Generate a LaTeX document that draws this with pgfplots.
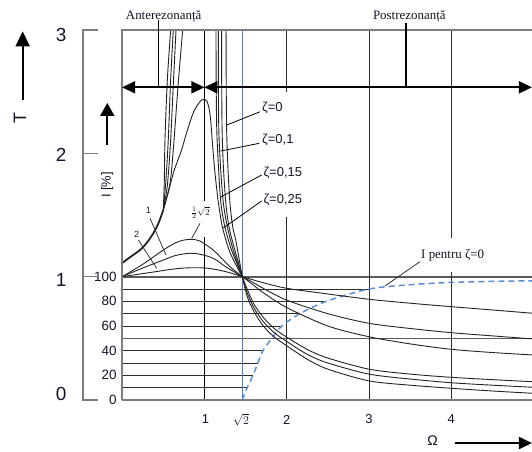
\documentclass[border=0pt]{standalone}
\usepackage{pgfplots}
\pgfplotsset{compat=1.18}
\usepackage{fontspec}
\setmainfont{Liberation Sans}
\newfontfamily\tnr{Liberation Serif}
\usetikzlibrary{arrows.meta}
\definecolor{curve}{RGB}{35,35,35}
\definecolor{gridc}{RGB}{45,45,45}
\definecolor{thickc}{RGB}{90,90,90}
\definecolor{framec}{RGB}{125,125,125}
\definecolor{blueline}{RGB}{70,130,220}
\definecolor{dashblue}{RGB}{90,140,215}
\definecolor{txt}{RGB}{20,20,40}
\newcommand\fs[1]{\fontsize{#1}{#1}\selectfont}

\begin{document}
\begin{tikzpicture}
\begin{axis}[
    x=82.3bp, y=123.3bp,
    anchor=origin, at={(0,0)},
    xmin=0, xmax=4.98, ymin=0, ymax=3,
    hide axis,
    clip mode=individual,
    every axis plot/.append style={line join=round},
]

  % isolation lines I [%] (ending on the I curve)
  \addplot[gridc, line width=1pt] coordinates {(0,0.1) (1.52,0.1)};
  \addplot[gridc, line width=1pt] coordinates {(0,0.2) (1.59,0.2)};
  \addplot[gridc, line width=1pt] coordinates {(0,0.3) (1.65,0.3)};
  \addplot[gridc, line width=1pt] coordinates {(0,0.4) (1.71,0.4)};
  \addplot[thickc, line width=1.7pt] coordinates {(0,0.5) (4.98,0.5)};
  \addplot[gridc, line width=1pt] coordinates {(0,0.6) (1.94,0.6)};
  \addplot[gridc, line width=1pt] coordinates {(0,0.7) (2.16,0.7)};
  \addplot[gridc, line width=1pt] coordinates {(0,0.8) (2.48,0.8)};
  \addplot[gridc, line width=1pt] coordinates {(0,0.9) (3.0,0.9)};
  \addplot[thickc, line width=1.7pt] coordinates {(0,1) (4.98,1)};

  % vertical lines (with gaps behind the labels)
  \addplot[black, line width=1pt] coordinates {(1,0) (1,1.325)};
  \addplot[black, line width=1pt] coordinates {(1,1.61) (1,3)};
  \addplot[gridc, line width=1pt] coordinates {(2,0) (2,1.484)};
  \addplot[gridc, line width=1pt] coordinates {(2,2.50) (2,3)};
  \addplot[gridc, line width=1pt] coordinates {(3,0) (3,3)};
  \addplot[gridc, line width=1pt] coordinates {(4,0) (4,1.04)};
  \addplot[gridc, line width=1pt] coordinates {(4,1.314) (4,3)};
  \addplot[blueline, line width=0.8pt] coordinates {(1.46,0) (1.46,3)};

  % I for zeta=0
  \addplot[dashblue, line width=1.5pt, dash pattern=on 6bp off 4bp, smooth]
    coordinates {(1.46,0) (1.52,0.1) (1.59,0.2) (1.65,0.3) (1.71,0.4) (1.82,0.5)
      (1.94,0.6) (2.16,0.7) (2.48,0.8) (3.0,0.9) (3.5,0.935) (4.0,0.954) (4.5,0.962) (5,0.967)};

  % heavily damped curves (left part)
  \addplot[curve, line width=0.9pt, smooth] coordinates {(0,1) (0.25,1.025) (0.42,1.042) (0.6,1.06)
      (0.75,1.07) (0.906,1.073) (1.05,1.068) (1.2,1.05) (1.33,1.028) (1.46,1.0)};
  \addplot[curve, line width=0.9pt, smooth] coordinates {(0,1) (0.25,1.07) (0.5,1.135) (0.65,1.172)
      (0.825,1.19) (0.95,1.182) (1.108,1.149) (1.25,1.085) (1.36,1.04) (1.46,1.0)};
  \addplot[curve, line width=0.9pt, smooth] coordinates {(0,1) (0.25,1.1) (0.5,1.216) (0.65,1.275)
      (0.75,1.297) (0.846,1.303) (0.95,1.288) (1.108,1.216) (1.2,1.155) (1.311,1.081) (1.46,1.0)};

  % lightly damped curves: common trunk and left branches
  \addplot[curve, line width=1.8pt, smooth] coordinates {(0,1.11) (0.1,1.16) (0.217,1.216)
      (0.3,1.275) (0.379,1.352) (0.44,1.43) (0.5,1.54)};
  \addplot[curve, line width=0.9pt, smooth] coordinates {(0.5,1.54) (0.512,1.75) (0.521,2.11) (0.55,2.6) (0.59,3.0)};
  \addplot[curve, line width=0.9pt, smooth] coordinates {(0.5,1.54) (0.53,1.76) (0.561,2.11) (0.59,2.6) (0.622,3.0)};
  \addplot[curve, line width=0.9pt, smooth] coordinates {(0.5,1.54) (0.55,1.74) (0.59,2.11) (0.625,2.6) (0.655,3.0)};
  \addplot[curve, line width=0.9pt, smooth] coordinates {(0.5,1.54) (0.582,1.757) (0.622,2.03) (0.68,2.55) (0.736,3.0)};

  % resonance peak curve
  \addplot[curve, line width=0.9pt, smooth] coordinates {(0.5,1.54) (0.56,1.68) (0.622,1.84)
      (0.68,1.95) (0.724,2.03) (0.785,2.17) (0.865,2.33) (0.93,2.405) (0.97,2.435) (1.0,2.44)
      (1.03,2.425) (1.055,2.37) (1.075,2.28) (1.09,2.15) (1.11,1.98) (1.135,1.8) (1.17,1.6)
      (1.22,1.4) (1.3,1.216) (1.38,1.1) (1.46,1.0)};

  % right branches
  \addplot[curve, line width=0.9pt, smooth] coordinates {(1.263,3.0) (1.265,2.6) (1.27,2.2)
      (1.285,1.9) (1.31,1.6) (1.345,1.4) (1.38,1.3) (1.42,1.15) (1.46,1.0)};
  \addplot[curve, line width=0.9pt, smooth] coordinates {(1.21,3.0) (1.21,2.6) (1.215,2.2)
      (1.23,1.9) (1.26,1.6) (1.3,1.4) (1.37,1.216) (1.42,1.1) (1.46,1.0)};
  \addplot[curve, line width=0.9pt, smooth] coordinates {(1.169,3.0) (1.17,2.6) (1.175,2.2)
      (1.195,1.9) (1.23,1.6) (1.28,1.4) (1.35,1.216) (1.41,1.1) (1.46,1.0)};
  \addplot[curve, line width=0.9pt, smooth] coordinates {(1.141,3.0) (1.143,2.6) (1.15,2.2)
      (1.17,1.9) (1.2,1.6) (1.25,1.4) (1.33,1.216) (1.40,1.1) (1.46,1.0)};

  % post-resonance region
  \addplot[curve, line width=0.9pt, smooth] coordinates {(1.46,1) (1.716,0.951) (2,0.906)
      (2.5,0.86) (3,0.817) (3.5,0.785) (4,0.757) (4.5,0.73) (5,0.703)};
  \addplot[curve, line width=0.9pt, smooth] coordinates {(1.46,1) (1.6,0.95) (1.716,0.905)
      (2,0.81) (2.5,0.70) (3,0.622) (3.5,0.58) (4,0.546) (4.5,0.52) (5,0.495)};
  \addplot[curve, line width=0.9pt, smooth] coordinates {(1.46,1) (1.6,0.93) (1.716,0.87)
      (2,0.75) (2.5,0.6) (3,0.513) (3.5,0.455) (4,0.411) (4.5,0.385) (5,0.365)};
  \addplot[curve, line width=0.9pt, smooth] coordinates {(1.46,1) (1.52,0.9) (1.6,0.78)
      (1.716,0.67) (1.85,0.58) (2,0.51) (2.25,0.41) (2.5,0.34) (3,0.25) (3.5,0.21)
      (4,0.184) (4.5,0.165) (5,0.148)};
  \addplot[curve, line width=0.9pt, smooth] coordinates {(1.46,1) (1.52,0.87) (1.6,0.75)
      (1.716,0.635) (1.85,0.545) (2,0.475) (2.25,0.37) (2.5,0.30) (3,0.21) (3.5,0.17)
      (4,0.14) (4.5,0.12) (5,0.103)};
  \addplot[curve, line width=0.9pt, smooth] coordinates {(1.46,1) (1.52,0.84) (1.6,0.72)
      (1.716,0.6) (1.85,0.51) (2,0.44) (2.25,0.33) (2.5,0.25) (3,0.155) (3.5,0.12)
      (4,0.095) (4.5,0.073) (5,0.054)};

  % frame (left, top, bottom) and the T axis on the far left
  \draw[framec, line width=1.5pt] (axis cs:0,0) -- (axis cs:0,3) -- (axis cs:4.98,3);
  \draw[framec, line width=1.5pt] (axis cs:0,0) -- (axis cs:4.98,0);
  \draw[framec, line width=1.5pt] (axis cs:-0.293,3) -- (axis cs:-0.475,3)
    -- (axis cs:-0.475,0) -- (axis cs:-0.293,0);
  \draw[framec, line width=1.5pt] (axis cs:-0.475,2) -- (axis cs:-0.293,2);
  \draw[framec, line width=1.5pt] (axis cs:-0.475,1) -- (axis cs:-0.31,1);

  % resonance region arrows
  \draw[black, line width=2bp, {Triangle[length=13bp,width=12bp]}-{Triangle[length=13bp,width=12bp]}]
    (axis cs:0,2.536) -- (axis cs:1.0,2.536);
  \draw[black, line width=2bp, {Triangle[length=13bp,width=12bp]}-{Triangle[length=13bp,width=12bp]}]
    (axis cs:1.0,2.536) -- (axis cs:4.98,2.536);
  \draw[black, line width=1.1pt] (axis cs:0.44,2.536) -- (axis cs:0.44,3.08);
  \draw[black, line width=1.1pt] (axis cs:3.45,2.536) -- (axis cs:3.45,3.06);
  \node[txt, font=\tnr\fs{13}] at (axis cs:0.505,3.11) {Anterezonanță};
  \node[txt, font=\tnr\fs{13}] at (axis cs:3.49,3.11) {Postrezonanță};

  % zeta labels
  \draw[black, line width=0.8pt] (axis cs:1.676,2.338) -- (axis cs:1.271,2.23);
  \draw[black, line width=0.8pt] (axis cs:1.667,2.082) -- (axis cs:1.198,2.019);
  \draw[black, line width=0.8pt] (axis cs:1.696,1.825) -- (axis cs:1.198,1.646);
  \draw[black, line width=0.8pt] (axis cs:1.696,1.614) -- (axis cs:1.23,1.395);
  \node[txt, anchor=west, inner sep=0pt, font=\fs{13}] at (axis cs:1.70,2.368) {ζ=0};
  \node[txt, anchor=west, inner sep=0pt, font=\fs{13}] at (axis cs:1.70,2.109) {ζ=0,1};
  \node[txt, anchor=west, inner sep=0pt, font=\fs{13}] at (axis cs:1.716,1.839) {ζ=0,15};
  \node[txt, anchor=west, inner sep=0pt, font=\fs{13}] at (axis cs:1.716,1.622) {ζ=0,25};

  % I curve label
  \draw[black!80, line width=0.8pt] (axis cs:3.62,1.122) -- (axis cs:3.194,0.925);
  \node[txt, anchor=west, inner sep=0pt, font=\tnr\fs{13}] at (axis cs:3.632,1.176) {I pentru ζ=0};

  % heavily damped labels
  \draw[black!80, line width=0.8pt] (axis cs:0.197,1.298) -- (axis cs:0.42,1.068);
  \draw[black!80, line width=0.8pt] (axis cs:0.339,1.474) -- (axis cs:0.533,1.176);
  \draw[black!80, line width=0.8pt] (axis cs:0.947,1.433) -- (axis cs:0.846,1.311);
  \node[txt, font=\fs{9}] at (axis cs:0.177,1.346) {2};
  \node[txt, font=\fs{9}] at (axis cs:0.318,1.535) {1};
  \node[txt, font=\fs{9.5}] at (axis cs:0.95,1.52) {$\frac{1}{2}\sqrt{2}$};

  % tick labels
  \node[txt, font=\fs{19}] at (axis cs:-0.742,2.96) {3};
  \node[txt, font=\fs{19}] at (axis cs:-0.742,1.99) {2};
  \node[txt, font=\fs{19}] at (axis cs:-0.742,0.975) {1};
  \node[txt, font=\fs{19}] at (axis cs:-0.742,0.05) {0};
  \node[txt, anchor=east, inner sep=0pt, font=\fs{13.5}] at (axis cs:-0.065,0) {0};
  \node[txt, anchor=east, inner sep=0pt, font=\fs{13.5}] at (axis cs:-0.065,0.2) {20};
  \node[txt, anchor=east, inner sep=0pt, font=\fs{13.5}] at (axis cs:-0.065,0.4) {40};
  \node[txt, anchor=east, inner sep=0pt, font=\fs{13.5}] at (axis cs:-0.065,0.6) {60};
  \node[txt, anchor=east, inner sep=0pt, font=\fs{13.5}] at (axis cs:-0.065,0.8) {80};
  \node[txt, anchor=east, inner sep=0pt, font=\fs{13.5}] at (axis cs:-0.065,1) {100};
  \node[txt, font=\fs{13}] at (axis cs:1.013,-0.158) {1};
  \node[txt, font=\fs{13}] at (axis cs:1.445,-0.158) {$\sqrt{2}$};
  \node[txt, font=\fs{13}] at (axis cs:2,-0.158) {2};
  \node[txt, font=\fs{13}] at (axis cs:3,-0.158) {3};
  \node[txt, font=\fs{13}] at (axis cs:4,-0.158) {4};

  % axis titles with arrows
  \node[txt, rotate=90, font=\fs{18}] at (axis cs:-1.24,2.287) {T};
  \draw[black, line width=2bp, -{Triangle[length=15bp,width=14bp]}]
    (axis cs:-1.208,2.433) -- (axis cs:-1.208,2.99);
  \node[txt, rotate=90, font=\fs{13}] at (axis cs:-0.18,1.744) {I [\%]};
  \draw[black, line width=2bp, -{Triangle[length=13bp,width=14bp]}]
    (axis cs:-0.18,2.068) -- (axis cs:-0.18,2.409);
  \node[txt, font=\fs{14}] at (axis cs:3.774,-0.333) {Ω};
  \draw[black, line width=2bp, -{Triangle[length=13bp,width=12bp]}]
    (axis cs:4.045,-0.349) -- (axis cs:4.98,-0.349);
\end{axis}
\pgfresetboundingbox
\path[use as bounding box] (-122.1bp,-52bp) rectangle (409.9bp,400bp);
\end{tikzpicture}
\end{document}
